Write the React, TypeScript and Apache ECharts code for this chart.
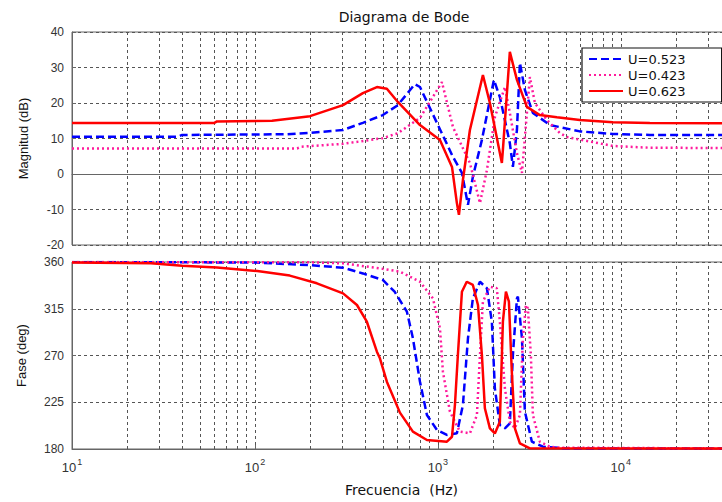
import React, { useEffect, useRef } from "react";
import * as echarts from "echarts";

const seriesNames = ["U=0.523", "U=0.423", "U=0.623"];
const seriesColors = ["#0000ff", "#ff1a9c", "#ff0000"];

// Magnitude (dB)
const blueMagFreq = [10, 38, 40, 150, 200, 303, 389, 500, 604, 748, 798, 988, 1209, 1353, 1460, 1553, 1740, 2023, 2181, 2473, 2570, 2704, 2807, 2988, 3305, 4097, 4642, 5970, 9040, 14400, 40000];
const blueMagDb = [10.5, 10.5, 11, 11.2, 11.6, 12.4, 14.4, 16.6, 19.4, 25.3, 24.5, 14.4, 4.8, 0.3, -8.7, -0.8, 9.6, 26.5, 21.7, 8.7, 2, 12.4, 31.3, 23.7, 17.2, 13.8, 13.2, 12, 11.3, 11, 11];

const pinkMagFreq = [10, 170, 180, 303, 500, 604, 798, 939, 1052, 1209, 1496, 1698, 1853, 2048, 2324, 2473, 2704, 2880, 3065, 3183, 3390, 3945, 4642, 5070, 9040, 14400, 40000];
const pinkMagDb = [7.2, 7.2, 7.7, 8.5, 10.1, 11.5, 15.8, 21.7, 25.9, 13.2, 3.1, -8.2, 1.1, 16, 24.5, 17.2, 5.9, 0.3, 17.2, 27.3, 20, 15.2, 11.5, 10.4, 7.9, 7.4, 7.3];

const redMagFreq = [10, 60, 62, 124, 200, 303, 389, 464, 526, 604, 798, 1026, 1194, 1270, 1303, 1370, 1496, 1762, 1924, 2237, 2266, 2473, 2704, 3065, 3608, 4472, 5970, 9040, 14400, 40000];
const redMagDb = [14.4, 14.4, 14.8, 15, 16.3, 19.4, 22.8, 24.5, 24, 20.3, 13.8, 9.6, 2, -8.2, -11.5, -1.7, 12.4, 27.9, 20, 3.1, 6.8, 34.4, 26.5, 18.9, 16.6, 16, 15.2, 14.6, 14.4, 14.3];

// Phase (deg)
const bluePhaseFreq = [10, 100, 200, 303, 389, 500, 580, 677, 730, 798, 871, 988, 1120, 1270, 1370, 1460, 1553, 1698, 1853, 1972, 2048, 2181, 2324, 2473, 2570, 2704, 2737, 2880, 2988, 3264, 3750, 5000, 40000];
const bluePhaseDeg = [360, 359.5, 357, 354.5, 349, 342.7, 331.4, 312.2, 286.6, 244.8, 212.7, 198.3, 193.5, 195.1, 222.4, 286.6, 325, 341, 334.7, 302.5, 238.4, 203.1, 199.9, 204.7, 270.5, 325, 326.6, 286.6, 216, 187, 182.2, 180.5, 180.5];

const pinkPhaseFreq = [10, 200, 303, 482, 620, 798, 939, 1026, 1065, 1163, 1319, 1496, 1634, 1698, 1762, 1924, 2099, 2181, 2324, 2473, 2636, 2807, 2915, 3026, 3103, 3222, 3305, 3608, 4097, 4642, 40000];
const pinkPhaseDeg = [360, 359.7, 358.7, 353.9, 350.7, 341, 325, 296.2, 254.4, 216, 196.7, 195.1, 212.7, 270.5, 321.8, 336.2, 334.7, 302.5, 238.4, 206.3, 199.9, 212.7, 286.6, 318.6, 315.4, 270.5, 212.7, 187, 182.2, 181.3, 180.5];

const redPhaseFreq = [10, 27, 40, 62, 103, 155, 218, 303, 361, 409, 464, 482, 526, 620, 730, 871, 1120, 1194, 1239, 1286, 1353, 1438, 1553, 1656, 1740, 1806, 1924, 2048, 2181, 2266, 2354, 2444, 2535, 2636, 2807, 3183, 40000];
const redPhaseDeg = [359.5, 358.7, 356.5, 354.6, 351.3, 346.9, 339.5, 329.8, 318.6, 302.5, 273.7, 267.3, 244.8, 215, 196.7, 188.7, 187, 191.8, 222.4, 270.5, 331.4, 341, 337.9, 318.6, 270.5, 219.2, 199.9, 195, 206.3, 302.5, 331.4, 321.8, 254.4, 199.9, 185.5, 180.7, 180.5];

const magTicks = { min: -20, max: 40, interval: 10 };
const phaseTicks = { min: 180, max: 360, interval: 45 };
const freqRange = { min: 10, max: 40000 };

const FONT = "'Liberation Sans', Arial, Helvetica, sans-serif";
const WIDE_FONT = "'DejaVu Sans', Verdana, sans-serif";

const zip = (xs: number[], ys: number[]) => xs.map((x, i) => [x, ys[i]]);

// minor log grid positions (2..9 x 10^k)
const minorGrid: number[] = [];
for (let e = 1; e <= 4; e++) {
  for (let k = 2; k <= 9; k++) {
    const v = k * Math.pow(10, e);
    if (v < freqRange.max) minorGrid.push(v);
  }
}

const gridLineStyle = { color: "#555", type: [3, 3] as number[], width: 1 };

export default function App() {
  const ref = useRef<HTMLDivElement>(null);
  useEffect(() => {
    if (!ref.current) return;
    const chart = echarts.init(ref.current, undefined, { renderer: "svg" });

    const lineStyles = [
      { color: seriesColors[0], width: 2.5, type: [8, 4] as number[] },
      { color: seriesColors[1], width: 2.5, type: [2, 3] as number[] },
      { color: seriesColors[2], width: 2.5, type: "solid" },
    ];
    const magData = [zip(blueMagFreq, blueMagDb), zip(pinkMagFreq, pinkMagDb), zip(redMagFreq, redMagDb)];
    const phaseData = [zip(bluePhaseFreq, bluePhaseDeg), zip(pinkPhaseFreq, pinkPhaseDeg), zip(redPhaseFreq, redPhaseDeg)];

    const markLine = {
      silent: true,
      z: 1,
      symbol: ["none", "none"],
      label: { show: false },
      lineStyle: gridLineStyle,
      emphasis: { disabled: true },
      data: minorGrid.map((v) => ({ xAxis: v })),
    };

    const series: any[] = [];
    seriesNames.forEach((name, i) => {
      series.push({
        name,
        type: "line",
        xAxisIndex: 0,
        yAxisIndex: 0,
        data: magData[i],
        showSymbol: false,
        symbol: "none",
        lineStyle: lineStyles[i],
        itemStyle: { color: seriesColors[i] },
        z: 3 + i,
        markLine: i === 0 ? markLine : undefined,
      });
    });
    seriesNames.forEach((name, i) => {
      series.push({
        name,
        type: "line",
        xAxisIndex: 1,
        yAxisIndex: 1,
        data: phaseData[i],
        showSymbol: false,
        symbol: "none",
        lineStyle: lineStyles[i],
        itemStyle: { color: seriesColors[i] },
        z: 3 + i,
        markLine: i === 0 ? markLine : undefined,
      });
    });

    const labelStyle = { fontFamily: FONT, fontSize: 12, color: "#333" };
    const axisLineStyle = { color: "#666", width: 1 };

    const xBase = {
      type: "log",
      logBase: 10,
      min: freqRange.min,
      max: freqRange.max,
      axisLine: { show: true, lineStyle: axisLineStyle },
      axisTick: { show: true, inside: true, length: 4, lineStyle: axisLineStyle },
      splitLine: { show: true, lineStyle: gridLineStyle },
    };

    const option: any = {
      animation: false,
      backgroundColor: "#fff",
      title: {
        text: "Diagrama de Bode",
        left: 399,
        top: 5,
        textAlign: "center",
        textStyle: { fontFamily: WIDE_FONT, fontSize: 14, fontWeight: "normal", color: "#111" },
      },
      legend: {
        data: seriesNames,
        orient: "vertical",
        left: 582,
        top: 48,
        padding: [4, 36, 4, 6],
        itemWidth: 34,
        itemHeight: 12,
        itemGap: 2,
        itemTextGap: 10,
        borderColor: "#111",
        borderWidth: 1.2,
        backgroundColor: "#fff",
        itemStyle: { color: "rgba(0,0,0,0)", borderWidth: 0, opacity: 0 },
        textStyle: { fontFamily: WIDE_FONT, fontSize: 13, lineHeight: 14, color: "#111" },
        z: 10,
      },
      grid: [
        { left: 72, top: 32, width: 659, height: 213, show: true, borderColor: "#666", borderWidth: 1, backgroundColor: "transparent" },
        { left: 72, top: 262, width: 659, height: 187, show: true, borderColor: "#666", borderWidth: 1, backgroundColor: "transparent" },
      ],
      xAxis: [
        { ...xBase, gridIndex: 0, axisLabel: { show: false } },
        {
          ...xBase,
          gridIndex: 1,
          name: "Frecuencia  (Hz)",
          nameLocation: "middle",
          nameGap: 34,
          nameTextStyle: { fontFamily: WIDE_FONT, fontSize: 14, color: "#111" },
          axisLabel: {
            show: true,
            margin: 8,
            showMaxLabel: false,
            formatter: (v: number) => "{b|10}{s|" + Math.round(Math.log10(v)) + "}",
            rich: {
              b: { fontFamily: FONT, fontSize: 13, color: "#333", verticalAlign: "bottom" },
              s: { fontFamily: FONT, fontSize: 9, color: "#333", verticalAlign: "top", padding: [0, 0, 8, 1] },
            },
          },
        },
      ],
      yAxis: [
        {
          type: "value",
          gridIndex: 0,
          min: magTicks.min,
          max: magTicks.max,
          interval: magTicks.interval,
          name: "Magnitud (dB)",
          nameLocation: "middle",
          nameGap: 42,
          nameTextStyle: { fontFamily: FONT, fontSize: 13, color: "#111" },
          axisLine: { show: true, lineStyle: axisLineStyle },
          axisTick: { show: true, inside: true, length: 4, lineStyle: axisLineStyle },
          axisLabel: { ...labelStyle, margin: 8 },
          splitLine: { show: true, lineStyle: gridLineStyle },
        },
        {
          type: "value",
          gridIndex: 1,
          min: phaseTicks.min,
          max: phaseTicks.max,
          interval: phaseTicks.interval,
          name: "Fase (deg)",
          nameLocation: "middle",
          nameGap: 44,
          nameTextStyle: { fontFamily: FONT, fontSize: 13, color: "#111" },
          axisLine: { show: true, lineStyle: axisLineStyle },
          axisTick: { show: true, inside: true, length: 4, lineStyle: axisLineStyle },
          axisLabel: { ...labelStyle, margin: 8 },
          splitLine: { show: true, lineStyle: gridLineStyle },
        },
      ],
      series,
    };

    chart.setOption(option);
    return () => chart.dispose();
  }, []);

  return (
    <div style={{ position: "absolute", left: 0, top: 0, width: 722, height: 502, overflow: "hidden", background: "#fff" }}>
      <div ref={ref} style={{ width: 732, height: 502 }} />
    </div>
  );
}
